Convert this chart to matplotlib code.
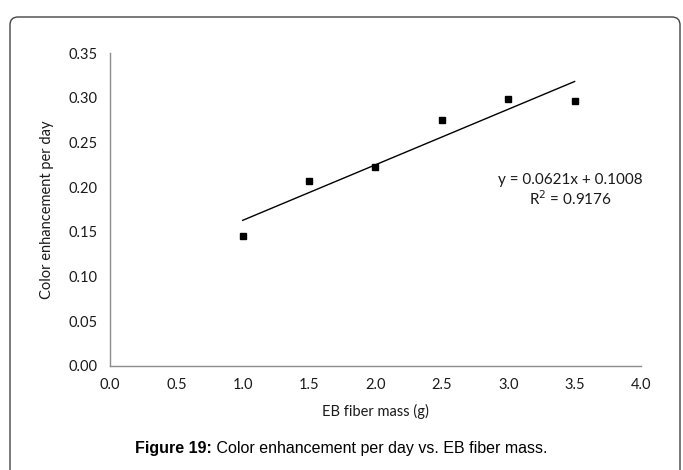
import numpy as np
import matplotlib
matplotlib.use("Agg")
import matplotlib.pyplot as plt
from matplotlib.patches import FancyBboxPatch

# data
mass = [1.0, 1.5, 2.0, 2.5, 3.0, 3.5]
enhancement = [0.145, 0.207, 0.222, 0.275, 0.299, 0.296]
slope, intercept = 0.0621, 0.1008
x_ticks = [0.0, 0.5, 1.0, 1.5, 2.0, 2.5, 3.0, 3.5, 4.0]
y_ticks = [0.00, 0.05, 0.10, 0.15, 0.20, 0.25, 0.30, 0.35]

chart_font = ["Lato", "DejaVu Sans"]
caption_font = ["Liberation Sans", "DejaVu Sans"]

fig = plt.figure(figsize=(6.83, 4.70), dpi=100)
ax = fig.add_axes([0.161, 0.2213, 0.7775, 0.6659])

# border around the figure (no bottom edge visible)
frame = FancyBboxPatch((0.10, -0.5), 6.70, 5.03,
                       boxstyle="round,pad=0,rounding_size=0.08",
                       transform=fig.dpi_scale_trans, fill=False,
                       edgecolor="#444444", linewidth=1.0)
fig.patches.append(frame)

ax.plot(mass, enhancement, linestyle="none", marker="s", markersize=5,
        color="black")
xfit = np.array([mass[0], mass[-1]])
ax.plot(xfit, slope * xfit + intercept, color="black", linewidth=1.0)

ax.set_xlim(0, 4)
ax.set_ylim(0, 0.35)
ax.set_xticks(x_ticks)
ax.set_yticks(y_ticks)
ax.set_xticklabels([f"{v:.1f}" for v in x_ticks], fontfamily=chart_font, fontsize=10.5)
ax.set_yticklabels([f"{v:.2f}" for v in y_ticks], fontfamily=chart_font, fontsize=10.5)
ax.tick_params(length=0, pad=9, colors="#1a1a1a")

for side in ["top", "right"]:
    ax.spines[side].set_visible(False)
for side in ["left", "bottom"]:
    ax.spines[side].set_color("#8c8c8c")
    ax.spines[side].set_linewidth(1.0)

ax.set_xlabel("EB fiber mass (g)", fontfamily=chart_font, fontsize=10.5,
              color="#1a1a1a", labelpad=8)
ax.set_ylabel("Color enhancement per day", fontfamily=chart_font, fontsize=10.5,
              color="#1a1a1a", labelpad=10)

ax.text(3.47, 0.208, f"y = {slope}x + {intercept}", fontfamily=chart_font,
        fontsize=11, ha="center", va="center", color="#1a1a1a")
ax.text(3.47, 0.187, "R$^2$ = 0.9176", fontfamily=chart_font,
        fontsize=11, ha="center", va="center", color="#1a1a1a")

# caption: bold label followed by regular text
cap_y = 0.045
t1 = fig.text(0.2, cap_y, "Figure 19:", fontfamily=caption_font,
              fontweight="bold", fontsize=11.5, va="center")
t2 = fig.text(0.2, cap_y, " Color enhancement per day vs. EB fiber mass.",
              fontfamily=caption_font, fontsize=11.5, va="center")
fig.canvas.draw()
r = fig.canvas.get_renderer()
w1 = t1.get_window_extent(r).width
w2 = t2.get_window_extent(r).width
start = (fig.bbox.width - (w1 + w2)) / 2
t1.set_x(start / fig.bbox.width)
t2.set_x((start + w1) / fig.bbox.width)

fig.savefig("out.png", dpi=100)
